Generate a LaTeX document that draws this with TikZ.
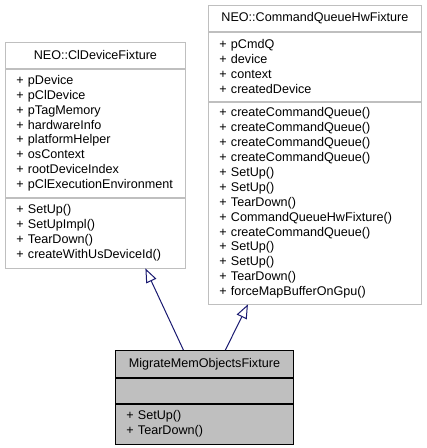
\documentclass[tikz,border=0pt]{standalone}
\usepackage{fontspec}
\setmainfont{Liberation Sans}
\usepackage{xcolor}
\usepackage{tikz}
\usetikzlibrary{arrows.meta, positioning}

\definecolor{boxgrey}{HTML}{BFBFBF}
\definecolor{edgeblue}{HTML}{191970}

\begin{document}
\begin{tikzpicture}[x=1pt, y=-1pt,
			>={Triangle[open, length=14pt, width=11pt]},
			line width=0.8pt,
			font=\fontsize{12.6pt}{14.9pt}\selectfont,
			umltitle/.style={draw=boxgrey, fill=white, align=center, text width=#1, inner xsep=11pt, inner ysep=0pt},
			umlpart/.style={draw=boxgrey, fill=white, align=left, text width=#1, inner xsep=11pt, inner ysep=0pt},
			inherit/.style={->, edgeblue, line width=1pt}]
			
			\useasboundingbox (0,0) rectangle (427,448);
			
			% base class on the left
			\node[umltitle=158pt, minimum height=26pt, anchor=north west] (cltitle) at (5,42) {NEO::ClDeviceFixture};
			\node[umlpart=158pt, minimum height=128pt, below=0pt of cltitle] (clattr) {+ pDevice\\+ pClDevice\\+ pTagMemory\\+ hardwareInfo\\+ platformHelper\\+ osContext\\+ rootDeviceIndex\\+ pClExecutionEnvironment};
			\node[umlpart=158pt, minimum height=70pt, below=0pt of clattr] (clmeth) {+ SetUp()\\+ SetUpImpl()\\+ TearDown()\\+ createWithUsDeviceId()};
			
			% base class on the right
			\node[umltitle=191pt, minimum height=26pt, anchor=north west] (cqtitle) at (208,5) {NEO::CommandQueueHwFixture};
			\node[umlpart=191pt, minimum height=69pt, below=0pt of cqtitle] (cqattr) {+ pCmdQ\\+ device\\+ context\\+ createdDevice};
			\node[umlpart=191pt, minimum height=202pt, below=0pt of cqattr] (cqmeth) {+ createCommandQueue()\\+ createCommandQueue()\\+ createCommandQueue()\\+ createCommandQueue()\\+ SetUp()\\+ SetUp()\\+ TearDown()\\+ CommandQueueHwFixture()\\+ createCommandQueue()\\+ SetUp()\\+ SetUp()\\+ TearDown()\\+ forceMapBufferOnGpu()};
			
			% derived class
			\node[umltitle=156pt, draw=black, fill=boxgrey, minimum height=27pt, anchor=north west] (mmtitle) at (115,350) {MigrateMemObjectsFixture};
			\node[umlpart=156pt, draw=black, fill=boxgrey, minimum height=25pt, below=0pt of mmtitle] (mmattr) {};
			\node[umlpart=156pt, draw=black, fill=boxgrey, minimum height=40pt, below=0pt of mmattr] (mmmeth) {+ SetUp()\\+ TearDown()};
			
			\draw[inherit] ([xshift=-21pt]mmtitle.north) -- ([xshift=50pt]clmeth.south);
			\draw[inherit] ([xshift=21pt]mmtitle.north) -- ([xshift=-67pt]cqmeth.south);
		\end{tikzpicture}
\end{document}
